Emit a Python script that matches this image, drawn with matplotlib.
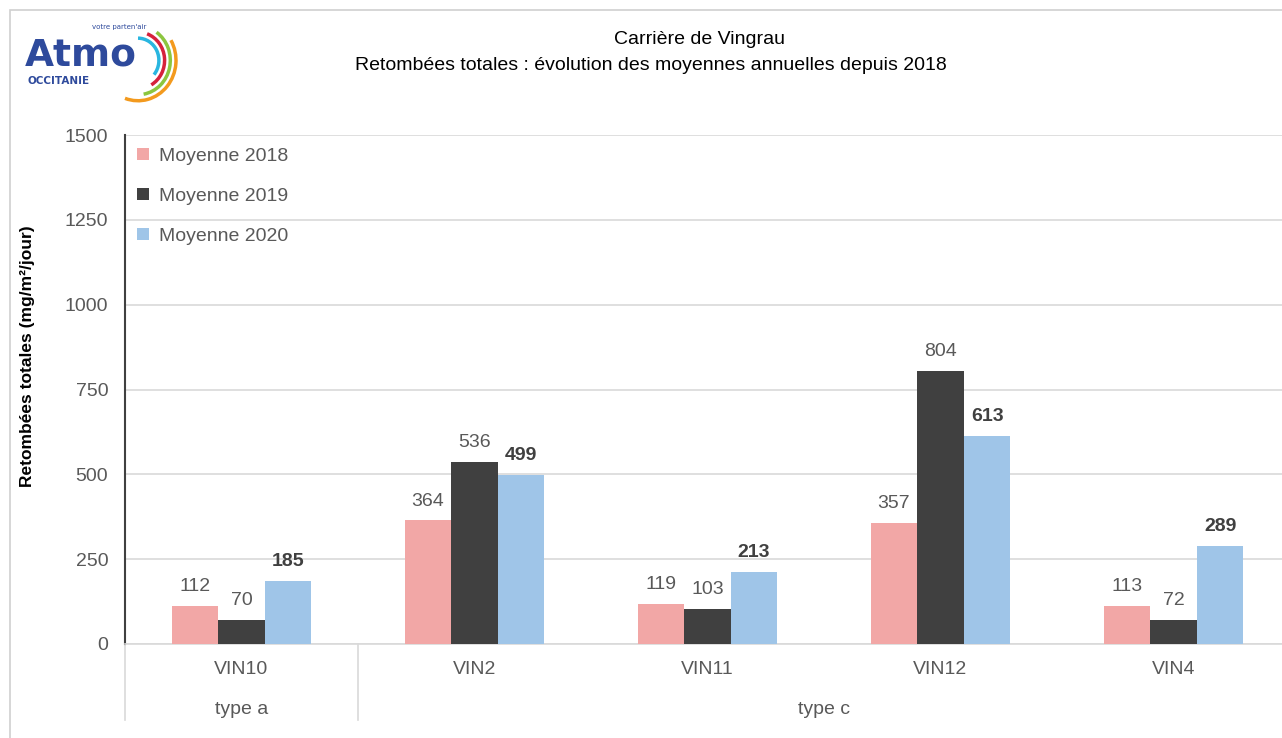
"""Retombées totales - Carrière de Vingrau, moyennes annuelles"""

import numpy as np
import matplotlib
matplotlib.use("Agg")
import matplotlib.pyplot as plt
from matplotlib.patches import Arc, Rectangle
from matplotlib.font_manager import fontManager

# Data
stations = ["VIN10", "VIN2", "VIN11", "VIN12", "VIN4"]
site_types = ["type a", "type c"]
type_spans = [(0, 1), (1, 5)]
moy_2018 = [112, 364, 119, 357, 113]
moy_2019 = [70, 536, 103, 804, 72]
moy_2020 = [185, 499, 213, 613, 289]
series_labels = ["Moyenne 2018", "Moyenne 2019", "Moyenne 2020"]
yticks = [0, 250, 500, 750, 1000, 1250, 1500]

colors = ["#f2a7a6", "#404040", "#9fc5e8"]
label_gray = "#595959"

names = {f.name for f in fontManager.ttflist}
narrow = "Liberation Sans Narrow" if "Liberation Sans Narrow" in names else "Liberation Sans"
plt.rcParams["font.family"] = [narrow, "DejaVu Sans"]

fig = plt.figure(figsize=(12.82, 7.38), dpi=100)
ax = fig.add_axes([125 / 1282, 1 - 644 / 738, 1165 / 1282, 509 / 738])

x = np.arange(len(stations)) + 0.5
w = 0.2
all_series = [moy_2018, moy_2019, moy_2020]
for k, (vals, col, lab) in enumerate(zip(all_series, colors, series_labels)):
    pos = x + (k - 1) * w
    bars = ax.bar(pos, vals, width=w, color=col, label=lab, zorder=3)
    for b, v in zip(bars, vals):
        bold = k == 2
        ax.text(b.get_x() + b.get_width() / 2, v + 32, str(v),
                ha="center", va="bottom", fontsize=14,
                fontweight="bold" if bold else "normal",
                color="#404040" if bold else label_gray)

ax.set_xlim(0, len(stations))
ax.set_ylim(0, 1500)
ax.set_yticks(yticks)
ax.set_yticklabels([str(t) for t in yticks], fontsize=14, color=label_gray)
ax.tick_params(axis="y", length=0, pad=12)
ax.set_xticks([])
ax.grid(axis="y", color="#d9d9d9", linewidth=1.2, zorder=0)
for s in ["top", "right"]:
    ax.spines[s].set_visible(False)
ax.spines["left"].set_color("#404040")
ax.spines["left"].set_linewidth(1.5)
ax.spines["bottom"].set_color("#d9d9d9")
ax.spines["bottom"].set_linewidth(1.2)

fig.text(28 / 1282, 1 - 356 / 738, "Retombées totales (mg/m²/jour)",
         rotation=90, ha="center", va="center", fontsize=12.5,
         fontweight="bold", color="black")

# category labels below axis
trans = ax.get_xaxis_transform()
for xi, st in zip(x, stations):
    ax.text(xi, -0.05, st, transform=trans, ha="center", va="center",
            fontsize=14, color=label_gray)
for (a, b), t in zip(type_spans, site_types):
    ax.text((a + b) / 2, -0.128, t, transform=trans, ha="center", va="center",
            fontsize=14, color=label_gray)
for xb in [0, 1]:
    ax.plot([xb, xb], [0, -0.15], transform=trans, color="#d9d9d9",
            linewidth=1.2, clip_on=False)

leg = ax.legend(loc="upper left", bbox_to_anchor=(-0.002, 1.003), frameon=False,
                fontsize=14, handlelength=0.6, handleheight=0.6,
                handletextpad=0.5, labelspacing=1.18, borderaxespad=0.35)
for t in leg.get_texts():
    t.set_color(label_gray)

# title
fig.text(699 / 1282, 1 - 40 / 738, "Carrière de Vingrau", ha="center",
         va="center", fontsize=14, color="black")
fig.text(651 / 1282, 1 - 66 / 738,
         "Retombées totales : évolution des moyennes annuelles depuis 2018",
         ha="center", va="center", fontsize=14, color="black")

# outer frame
fig.patches.append(Rectangle((10 / 1282, -0.01), 1.02, 1 - 10 / 738 + 0.01,
                             transform=fig.transFigure, fill=False,
                             edgecolor="#d0d0d0", linewidth=1.2))

# logo approximation
fig.text(25 / 1282, 1 - 56 / 738, "Atmo", fontsize=27, fontweight="bold",
         color="#2e4a9c", ha="left", va="center", family="DejaVu Sans")
fig.text(28 / 1282, 1 - 81 / 738, "OCCITANIE", fontsize=7.5, fontweight="bold",
         color="#2e4a9c", ha="left", va="center", family="DejaVu Sans")
fig.text(146 / 1282, 1 - 27 / 738, "votre parten'air", fontsize=5,
         color="#2e4a9c", ha="right", va="center", family="DejaVu Sans")
logo = fig.add_axes([110 / 1282, 1 - 105 / 738, 80 / 1282, 85 / 738])
logo.set_xlim(-1, 1)
logo.set_ylim(-1, 1)
logo.axis("off")
for r, c, t1, t2 in [(0.55, "#29b6e0", -40, 90), (0.7, "#d6213c", -60, 70),
                     (0.85, "#8cc63f", -80, 55), (1.0, "#f39a1e", -110, 30)]:
    logo.add_patch(Arc((-0.3, 0.05), r * 1.9, r * 1.9, theta1=t1, theta2=t2,
                       color=c, linewidth=2.5))

fig.savefig("out.png", dpi=100)
